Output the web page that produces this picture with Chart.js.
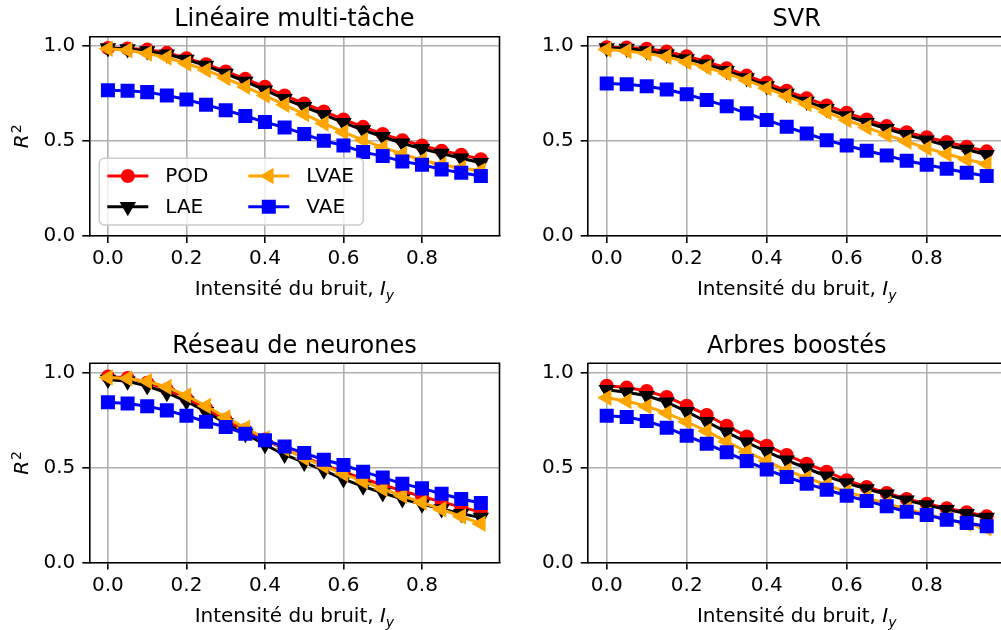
<!DOCTYPE html>
<html>
<head>
<meta charset="utf-8">
<script src="https://cdn.jsdelivr.net/npm/chart.js@4.4.0/dist/chart.umd.min.js"></script>
<style>
  html, body { margin: 0; padding: 0; background: #fff; overflow: hidden; width: 1001px; height: 630px; }
  canvas { position: absolute; }
</style>
</head>
<body>
<canvas id="panel0"></canvas>
<canvas id="panel1"></canvas>
<canvas id="panel2"></canvas>
<canvas id="panel3"></canvas>
<script>
// noise levels on the x axis
const noise = [0, 0.05, 0.1, 0.15, 0.2, 0.25, 0.3, 0.35, 0.4, 0.45, 0.5, 0.55, 0.6, 0.65, 0.7, 0.75, 0.8, 0.85, 0.9, 0.95];
const xTicks = [0, 0.2, 0.4, 0.6, 0.8];
const yTicks = [0, 0.5, 1.0];
const seriesNames = ['POD', 'LAE', 'LVAE', 'VAE'];
const panelTitles = ['Linéaire multi-tâche', 'SVR', 'Réseau de neurones', 'Arbres boostés'];

const linearPOD = [0.99, 0.988, 0.982, 0.965, 0.937, 0.905, 0.867, 0.828, 0.786, 0.740, 0.698, 0.656, 0.614, 0.575, 0.537, 0.505, 0.477, 0.449, 0.428, 0.405];
const linearLAE = [0.99, 0.985, 0.975, 0.958, 0.930, 0.898, 0.856, 0.814, 0.768, 0.723, 0.681, 0.639, 0.597, 0.558, 0.523, 0.488, 0.460, 0.434, 0.410, 0.386];
const linearLVAE = [0.986, 0.979, 0.961, 0.940, 0.909, 0.874, 0.832, 0.786, 0.740, 0.691, 0.642, 0.593, 0.547, 0.505, 0.467, 0.432, 0.400, 0.375, 0.358, 0.344];
const linearVAE = [0.768, 0.765, 0.758, 0.740, 0.719, 0.691, 0.663, 0.632, 0.600, 0.572, 0.537, 0.502, 0.477, 0.442, 0.421, 0.393, 0.375, 0.351, 0.333, 0.316];

const svrPOD = [0.995, 0.993, 0.987, 0.972, 0.947, 0.919, 0.884, 0.845, 0.807, 0.765, 0.726, 0.688, 0.649, 0.614, 0.579, 0.547, 0.520, 0.495, 0.470, 0.446];
const svrLAE = [0.990, 0.988, 0.975, 0.958, 0.933, 0.905, 0.870, 0.832, 0.790, 0.751, 0.709, 0.670, 0.632, 0.597, 0.565, 0.533, 0.505, 0.477, 0.456, 0.428];
const svrLVAE = [0.982, 0.975, 0.961, 0.944, 0.916, 0.888, 0.856, 0.821, 0.779, 0.737, 0.695, 0.653, 0.611, 0.572, 0.533, 0.498, 0.463, 0.432, 0.403, 0.379];
const svrVAE = [0.803, 0.800, 0.789, 0.772, 0.747, 0.716, 0.684, 0.646, 0.611, 0.575, 0.540, 0.505, 0.477, 0.449, 0.424, 0.396, 0.375, 0.354, 0.333, 0.316];

const nnPOD = [0.980, 0.972, 0.948, 0.912, 0.865, 0.812, 0.752, 0.698, 0.648, 0.598, 0.555, 0.515, 0.478, 0.442, 0.410, 0.378, 0.348, 0.320, 0.292, 0.266];
const nnLAE = [0.965, 0.955, 0.930, 0.895, 0.850, 0.795, 0.735, 0.679, 0.621, 0.569, 0.528, 0.486, 0.440, 0.402, 0.367, 0.335, 0.308, 0.283, 0.258, 0.237];
const nnLVAE = [0.975, 0.970, 0.955, 0.925, 0.880, 0.825, 0.765, 0.710, 0.655, 0.600, 0.550, 0.508, 0.467, 0.427, 0.388, 0.352, 0.317, 0.280, 0.243, 0.205];
const nnVAE = [0.845, 0.838, 0.824, 0.802, 0.774, 0.742, 0.714, 0.679, 0.644, 0.612, 0.577, 0.542, 0.514, 0.479, 0.448, 0.416, 0.391, 0.363, 0.335, 0.314];

const boostPOD = [0.932, 0.922, 0.904, 0.873, 0.827, 0.778, 0.721, 0.665, 0.616, 0.567, 0.521, 0.479, 0.434, 0.398, 0.367, 0.335, 0.310, 0.286, 0.265, 0.244];
const boostLAE = [0.911, 0.897, 0.879, 0.845, 0.795, 0.742, 0.687, 0.634, 0.584, 0.539, 0.497, 0.455, 0.419, 0.388, 0.360, 0.328, 0.303, 0.279, 0.258, 0.237];
const boostLVAE = [0.869, 0.851, 0.823, 0.788, 0.742, 0.693, 0.637, 0.584, 0.535, 0.486, 0.447, 0.409, 0.373, 0.342, 0.310, 0.282, 0.254, 0.230, 0.205, 0.181];
const boostVAE = [0.774, 0.767, 0.746, 0.711, 0.668, 0.626, 0.581, 0.535, 0.490, 0.451, 0.416, 0.384, 0.352, 0.325, 0.297, 0.268, 0.251, 0.226, 0.209, 0.191];

const colors = ['#ff0000', '#000000', '#ffa500', '#0000ff'];
const markers = [
  { pointStyle: 'circle', radius: 6, rotation: 0 },
  { pointStyle: 'triangle', radius: 7.5, rotation: 180 },
  { pointStyle: 'triangle', radius: 7.5, rotation: -90 },
  { pointStyle: 'rect', radius: 8.5, rotation: 0 }
];

// canvas placement and plot box (page pixels)
const panels = [
  { series: [linearPOD, linearLAE, linearLVAE, linearVAE], canvas: [0, 0, 510, 315], box: [89.3, 36.7, 507.3, 236], yLabel: true, legend: true },
  { series: [svrPOD, svrLAE, svrLVAE, svrVAE], canvas: [500, 0, 520, 315], box: [587.7, 36.7, 1005.7, 236], yLabel: false, legend: false },
  { series: [nnPOD, nnLAE, nnLVAE, nnVAE], canvas: [0, 315, 510, 315], box: [89.3, 363.3, 507.3, 562.6], yLabel: true, legend: false },
  { series: [boostPOD, boostLAE, boostLVAE, boostVAE], canvas: [500, 315, 520, 315], box: [587.7, 363.3, 1005.7, 562.6], yLabel: false, legend: false }
];
const Y_AXIS_W = 80;
const X_AXIS_H = 40;

const FONT = "'DejaVu Sans', sans-serif";
Chart.defaults.font.family = FONT;
Chart.defaults.color = '#000';

function drawMarker(ctx, k, x, y) {
  ctx.fillStyle = colors[k];
  ctx.strokeStyle = colors[k];
  ctx.lineWidth = 2;
  Chart.helpers.drawPoint(ctx, {
    pointStyle: markers[k].pointStyle,
    radius: markers[k].radius,
    rotation: markers[k].rotation,
    borderWidth: 2
  }, x, y);
}

function drawXLabel(ctx, cx, y) {
  const plain = 'Intensité du bruit, ';
  ctx.font = '20px ' + FONT;
  const w1 = ctx.measureText(plain).width;
  ctx.font = 'italic 20px ' + FONT;
  const w2 = ctx.measureText('I').width;
  ctx.font = 'italic 14px ' + FONT;
  const w3 = ctx.measureText('y').width;
  let x = cx - (w1 + w2 + w3) / 2;
  ctx.textAlign = 'left';
  ctx.textBaseline = 'alphabetic';
  ctx.font = '20px ' + FONT;
  ctx.fillText(plain, x, y);
  x += w1;
  ctx.font = 'italic 20px ' + FONT;
  ctx.fillText('I', x, y);
  x += w2;
  ctx.font = 'italic 14px ' + FONT;
  ctx.fillText('y', x, y + 5);
}

function drawYLabel(ctx, bx, cy) {
  ctx.save();
  ctx.translate(bx, cy);
  ctx.rotate(-Math.PI / 2);
  ctx.font = 'italic 20px ' + FONT;
  const wR = ctx.measureText('R').width;
  ctx.font = '14px ' + FONT;
  const w2 = ctx.measureText('2').width;
  const x0 = -(wR + w2 + 1) / 2;
  ctx.textAlign = 'left';
  ctx.textBaseline = 'alphabetic';
  ctx.font = 'italic 20px ' + FONT;
  ctx.fillText('R', x0, 0);
  ctx.font = '14px ' + FONT;
  ctx.fillText('2', x0 + wR + 1, -7);
  ctx.restore();
}

function drawLegend(ctx, a) {
  const left = a.left + 10, top = a.top + 121.6, w = 264, h = 66.7, r = 5;
  ctx.save();
  ctx.beginPath();
  ctx.moveTo(left + r, top);
  ctx.arcTo(left + w, top, left + w, top + h, r);
  ctx.arcTo(left + w, top + h, left, top + h, r);
  ctx.arcTo(left, top + h, left, top, r);
  ctx.arcTo(left, top, left + w, top, r);
  ctx.closePath();
  ctx.fillStyle = 'rgba(255,255,255,0.8)';
  ctx.fill();
  ctx.strokeStyle = '#cccccc';
  ctx.lineWidth = 1.6;
  ctx.stroke();

  const cols = [left + 8, left + 149];
  const rows = [top + 17.7, top + 48.4];
  ctx.font = '20px ' + FONT;
  ctx.textBaseline = 'middle';
  ctx.textAlign = 'left';
  seriesNames.forEach(function (name, k) {
    const x = cols[Math.floor(k / 2)];
    const y = rows[k % 2];
    ctx.strokeStyle = colors[k];
    ctx.lineWidth = 3;
    ctx.beginPath();
    ctx.moveTo(x, y);
    ctx.lineTo(x + 41, y);
    ctx.stroke();
    drawMarker(ctx, k, x + 20.5, y);
    ctx.fillStyle = '#000';
    ctx.fillText(name, x + 58, y + 1);
  });
  ctx.restore();
}

const decor = {
  id: 'decor',
  afterDraw(chart, args, opts) {
    const ctx = chart.ctx;
    const a = chart.chartArea;
    ctx.save();
    ctx.strokeStyle = '#000';
    ctx.lineWidth = 1.6;
    ctx.beginPath();
    ctx.moveTo(a.left, a.top);
    ctx.lineTo(a.right, a.top);
    ctx.lineTo(a.right, a.bottom);
    ctx.stroke();

    ctx.fillStyle = '#000';
    ctx.font = '24px ' + FONT;
    ctx.textAlign = 'center';
    ctx.textBaseline = 'alphabetic';
    ctx.fillText(opts.title, (a.left + a.right) / 2, a.top - 10.7);

    drawXLabel(ctx, (a.left + a.right) / 2, a.bottom + 59);
    if (opts.yLabel) drawYLabel(ctx, a.left - 61.3, (a.top + a.bottom) / 2);
    if (opts.legend) drawLegend(ctx, a);
    ctx.restore();
  }
};

function axisOptions(min, max, ticks, isX) {
  return {
    type: 'linear',
    min: min,
    max: max,
    afterBuildTicks: function (scale) {
      scale.ticks = ticks.map(v => ({ value: v }));
    },
    afterFit: function (scale) {
      if (isX) scale.height = X_AXIS_H; else scale.width = Y_AXIS_W;
      scale.paddingLeft = scale.paddingRight = scale.paddingTop = scale.paddingBottom = 0;
    },
    grid: { color: '#b0b0b0', lineWidth: 1.6, tickColor: '#000', tickWidth: 1.6, tickLength: 7, drawTicks: true },
    border: { display: true, color: '#000', width: 1.6 },
    ticks: {
      font: { size: 20, family: FONT },
      color: '#000',
      padding: isX ? 4 : 7,
      autoSkip: false,
      maxRotation: 0,
      callback: v => v.toFixed(1)
    }
  };
}

function renderPanel(i) {
  const p = panels[i];
  const el = document.getElementById('panel' + i);
  const [cx, cy, cw, ch] = p.canvas;
  el.width = cw;
  el.height = ch;
  el.style.left = cx + 'px';
  el.style.top = cy + 'px';

  const datasets = p.series.map(function (values, k) {
    return {
      label: seriesNames[k],
      data: noise.map((x, j) => ({ x: x, y: values[j] })),
      borderColor: colors[k],
      backgroundColor: colors[k],
      borderWidth: 3,
      tension: 0,
      fill: false,
      pointStyle: markers[k].pointStyle,
      pointRadius: markers[k].radius,
      pointRotation: markers[k].rotation,
      pointBorderWidth: 2,
      pointBackgroundColor: colors[k],
      pointBorderColor: colors[k],
      order: 4 - k
    };
  });

  new Chart(el.getContext('2d'), {
    type: 'line',
    data: { datasets: datasets },
    plugins: [decor],
    options: {
      responsive: false,
      animation: false,
      events: [],
      layout: {
        padding: {
          left: p.box[0] - cx - Y_AXIS_W,
          top: p.box[1] - cy,
          right: cx + cw - p.box[2],
          bottom: cy + ch - p.box[3] - X_AXIS_H
        }
      },
      plugins: {
        legend: { display: false },
        tooltip: { enabled: false },
        decor: { title: panelTitles[i], yLabel: p.yLabel, legend: p.legend }
      },
      scales: {
        x: axisOptions(-0.0475, 0.9975, xTicks, true),
        y: axisOptions(0, 1.05, yTicks, false)
      }
    }
  });
}

for (let i = 0; i < panels.length; i++) {
  renderPanel(i);
}
</script>
</body>
</html>
